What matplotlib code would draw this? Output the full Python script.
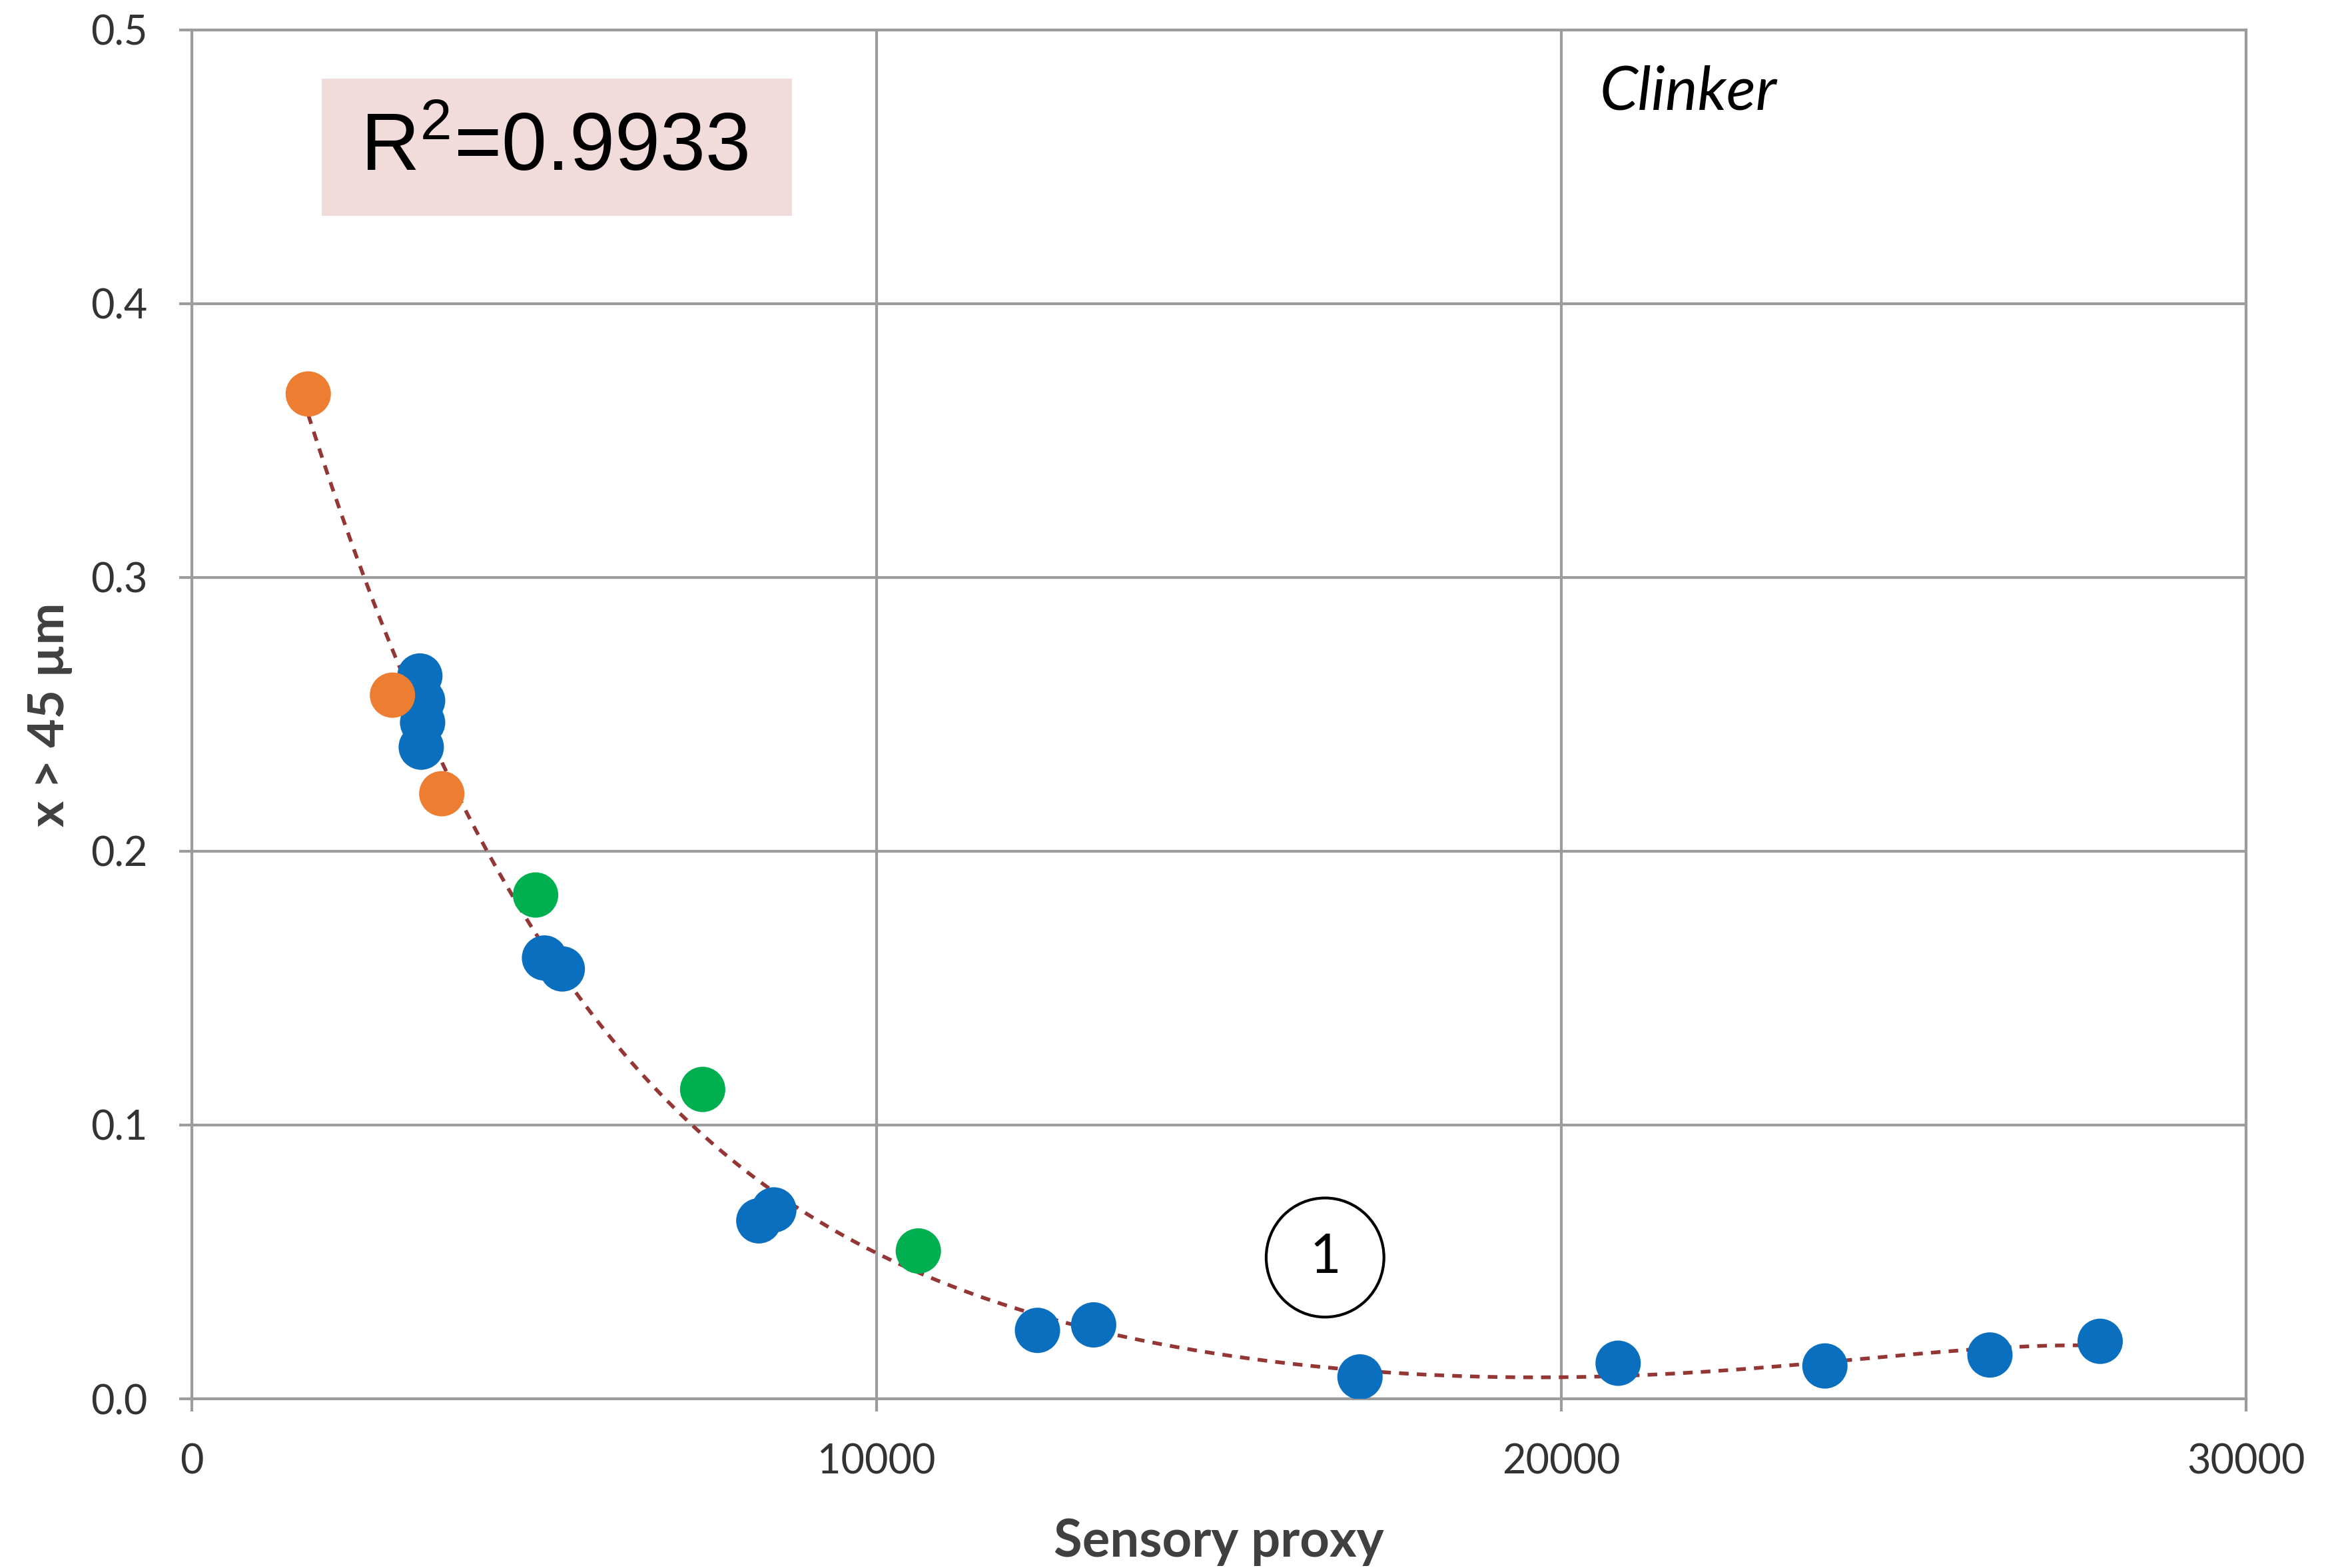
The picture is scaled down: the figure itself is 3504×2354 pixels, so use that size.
import matplotlib.pyplot as plt
import numpy as np
from matplotlib.patches import Ellipse, Rectangle

# --- Data ---
orange_x = [1700, 2930, 3650]
orange_y = [0.367, 0.257, 0.221]
green_x = [5020, 7460, 10610]
green_y = [0.184, 0.113, 0.054]
blue_x = [3330, 3370, 3370, 3350, 5150, 5410, 8280, 8500,
          12350, 13170, 17060, 20830, 23850, 26260, 27870]
blue_y = [0.264, 0.255, 0.247, 0.238, 0.161, 0.157, 0.065, 0.069,
          0.025, 0.027, 0.008, 0.013, 0.012, 0.016, 0.021]
r_squared = 0.9933

x_ticks = [0, 10000, 20000, 30000]
y_ticks = [0.0, 0.1, 0.2, 0.3, 0.4, 0.5]

# polynomial trend over all samples
all_x = np.array(orange_x + green_x + blue_x, dtype=float)
all_y = np.array(orange_y + green_y + blue_y, dtype=float)
coef = np.polyfit(all_x, all_y, 5)
xs = np.linspace(all_x.min(), all_x.max(), 300)
ys = np.polyval(coef, xs)

# --- Plotting ---
plt.rcParams['font.family'] = ['Lato', 'DejaVu Sans']
plt.rcParams['mathtext.fontset'] = 'custom'
plt.rcParams['mathtext.rm'] = 'Liberation Sans'
fig = plt.figure(figsize=(35.04, 23.54), dpi=100)
ax = fig.add_axes([0.0822, 0.1079, 0.8801, 0.8731])

grid_color = '#9c9c9c'
ax.set_axisbelow(True)
ax.grid(True, color=grid_color, linewidth=3)
for s in ax.spines.values():
    s.set_color(grid_color)
    s.set_linewidth(3)

ax.plot(xs, ys, color='#943634', linewidth=4, linestyle=(0, (2.6, 2.2)), zorder=3)
ax.scatter(blue_x, blue_y, s=2400, color='#0B6FC0', edgecolors='none', zorder=4)
ax.scatter(orange_x, orange_y, s=2400, color='#ED7D31', edgecolors='none', zorder=4)
ax.scatter(green_x, green_y, s=2400, color='#00B050', edgecolors='none', zorder=4)

ax.set_xlim(0, 30000)
ax.set_ylim(0, 0.5)
ax.set_xticks(x_ticks)
ax.set_yticks(y_ticks)
ax.set_yticklabels([f'{v:.1f}' for v in y_ticks])
ax.tick_params(axis='both', length=14, width=3, color=grid_color, pad=34,
               labelsize=44, labelcolor='#333333')

ax.set_xlabel('Sensory proxy', fontsize=56, fontweight='bold', color='#404040')
ax.xaxis.set_label_coords(0.5, -0.087)
ax.set_ylabel('x > 45 µm', fontsize=54, fontweight='bold', color='#404040')
ax.yaxis.set_label_coords(-0.058, 0.5)

# R² box
ax.add_patch(Rectangle((0.0632, 0.864), 0.229, 0.1005, transform=ax.transAxes,
                       facecolor='#F2DCDB', edgecolor='none', zorder=5))
ax.text(0.1765, 0.913, f'R$^2$={r_squared:.4f}', transform=ax.transAxes,
        fontsize=88, family='Liberation Sans', ha='center', va='center',
        color='black', zorder=6)

ax.text(20560, 0.477, 'Clinker', fontsize=66, style='italic', color='black',
        ha='left', va='center')

# circled marker label
ax.add_patch(Ellipse((16550, 0.0516), 1720, 0.0435, facecolor='white',
                     edgecolor='black', linewidth=3, zorder=5))
ax.text(16550, 0.0516, '1', fontsize=58, ha='center', va='center', zorder=6)

plt.savefig('out.png', dpi=100)
